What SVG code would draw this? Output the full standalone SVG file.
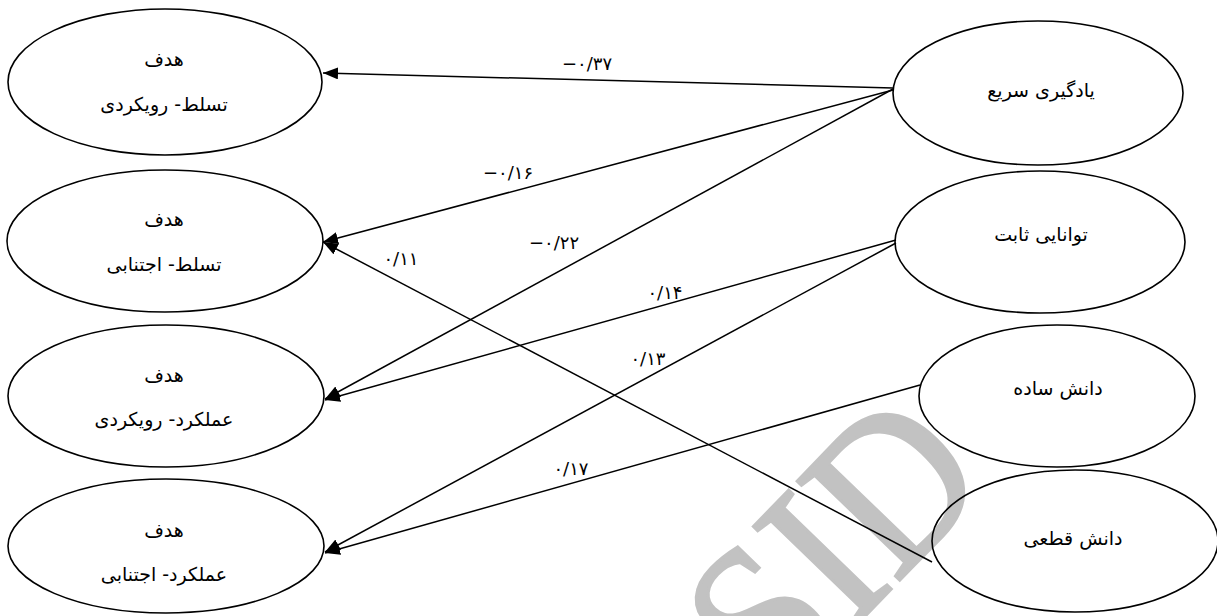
<svg xmlns="http://www.w3.org/2000/svg" width="1217" height="616" viewBox="0 0 1217 616">
<style>
.node ellipse{fill:none;stroke:#000;stroke-width:1.6}
.lbl{font-family:"DejaVu Sans",sans-serif;font-size:19px;fill:#000;text-anchor:middle;direction:rtl}
.num{font-family:"DejaVu Sans",sans-serif;font-size:18px;fill:#000;text-anchor:middle;direction:ltr}
.edge{stroke:#000;stroke-width:1.5;fill:none;marker-end:url(#arr)}
.wm{font-family:"Liberation Serif",serif;font-size:194px}
</style>
<defs>
<marker id="arr" markerUnits="userSpaceOnUse" markerWidth="16" markerHeight="12" refX="15" refY="6" orient="auto">
<path d="M0,0 L15,6 L0,12 z" fill="#000"/>
</marker>
</defs>
<rect width="1217" height="616" fill="#fff"/>
<text class="wm" fill="#c2c2c2" stroke="#c2c2c2" stroke-width="3" transform="translate(776,708) rotate(-46) scale(1,1.12)">SID</text>
<g id="connectors">
<line class="edge" x1="893" y1="88" x2="323" y2="73"/>
<line class="edge" x1="893" y1="90" x2="323" y2="242"/>
<line class="edge" x1="893" y1="89" x2="325" y2="399"/>
<line class="edge" x1="896" y1="240" x2="325" y2="400"/>
<line class="edge" x1="896" y1="243" x2="325" y2="552"/>
<line class="edge" x1="920" y1="385" x2="325" y2="553"/>
<line class="edge" x1="932" y1="562" x2="323" y2="242"/>
<text class="num" x="587" y="70">−۰/۳۷</text>
<text class="num" x="508" y="179">−۰/۱۶</text>
<text class="num" x="554" y="249">−۰/۲۲</text>
<text class="num" x="665" y="299">۰/۱۴</text>
<text class="num" x="648" y="365">۰/۱۳</text>
<text class="num" x="571" y="475">۰/۱۷</text>
<text class="num" x="401" y="265">۰/۱۱</text>
</g>
<g id="goal-mastery-approach" class="node">
<ellipse cx="165" cy="82" rx="157" ry="73"/>
<text class="lbl" x="164" y="66">هدف</text>
<text class="lbl" x="164" y="111">تسلط- رویکردی</text>
</g>
<g id="goal-mastery-avoidance" class="node">
<ellipse cx="165" cy="241" rx="158" ry="71"/>
<text class="lbl" x="164" y="226">هدف</text>
<text class="lbl" x="164" y="271">تسلط- اجتنابی</text>
</g>
<g id="goal-performance-approach" class="node">
<ellipse cx="166" cy="396" rx="158" ry="71"/>
<text class="lbl" x="164" y="382">هدف</text>
<text class="lbl" x="164" y="426">عملکرد- رویکردی</text>
</g>
<g id="goal-performance-avoidance" class="node">
<ellipse cx="166" cy="546" rx="158" ry="67"/>
<text class="lbl" x="164" y="537">هدف</text>
<text class="lbl" x="164" y="581">عملکرد- اجتنابی</text>
</g>
<g id="quick-learning" class="node">
<ellipse cx="1038" cy="93" rx="145" ry="72"/>
<text class="lbl" x="1041" y="97">یادگیری سریع</text>
</g>
<g id="fixed-ability" class="node">
<ellipse cx="1040" cy="242" rx="145" ry="71"/>
<text class="lbl" x="1041" y="241">توانایی ثابت</text>
</g>
<g id="simple-knowledge" class="node">
<ellipse cx="1057" cy="396" rx="138" ry="71"/>
<text class="lbl" x="1058" y="395">دانش ساده</text>
</g>
<g id="certain-knowledge" class="node">
<ellipse cx="1075" cy="541" rx="143" ry="71"/>
<text class="lbl" x="1073" y="545">دانش قطعی</text>
</g>
</svg>
